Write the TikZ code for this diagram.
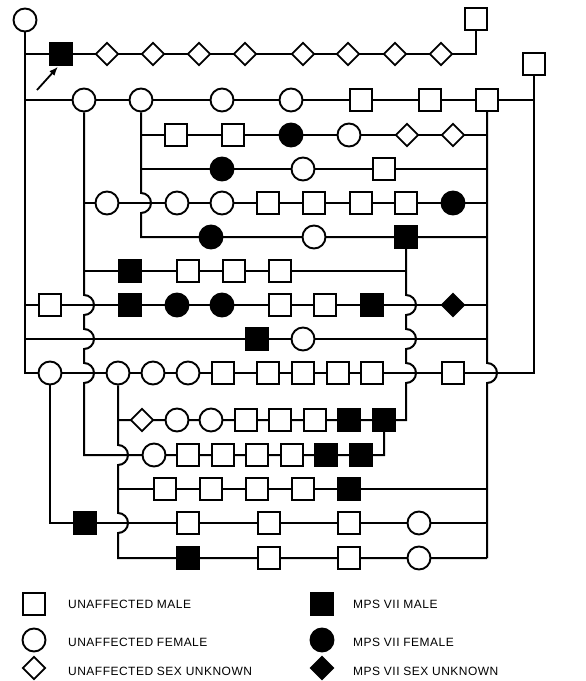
\documentclass[tikz,border=0pt]{standalone}
\usepackage{fontspec}
\setmainfont{Liberation Sans}
\newfontfamily\legfont{Liberation Sans}[LetterSpace=4]
\usetikzlibrary{shapes.geometric,arrows.meta,backgrounds,calc}
\tikzset{
  sym/.style={draw, line width=1.9pt, inner sep=0pt, fill=white},
  M/.style={sym, rectangle, minimum size=21.5pt},
  MA/.style={M, fill=black},
  F/.style={sym, circle, minimum size=23pt},
  FA/.style={F, fill=black},
  U/.style={sym, diamond, minimum size=23pt},
  UA/.style={U, fill=black},
  ln/.style={line width=2pt},
  leg/.style={anchor=west, inner sep=0pt, font=\legfont\fontsize{12}{14}\selectfont},
}
\newcommand\pedrow[3]{\foreach \x/\s [count=\i] in {#3} {\node[\s] (#1-\i) at (\x,#2) {};}}
\begin{document}
\begin{tikzpicture}[x=1pt,y=-1pt]
\path[use as bounding box] (0,0) rectangle (586,681);
\node[F] (t0) at (25,20) {};
\node[M] (tR) at (476,19) {};
\node[M] (tS) at (534,64) {};
\pedrow{r1}{54}{61/MA,107/U,153/U,199/U,245/U,303/U,348/U,395/U,441/U}
\pedrow{r2}{100}{84/F,141/F,222/F,291/F,361/M,430/M,487/M}
\pedrow{r3}{135}{176/M,233/M,291/FA,349/F,407/U,453/U}
\pedrow{r4}{169}{222/FA,303/F,384/M}
\pedrow{r5}{203}{107/F,177/F,222/F,268/M,314/M,361/M,406/M,453/FA}
\pedrow{r6}{237}{211/FA,314/F,406/MA}
\pedrow{r7}{271}{130/MA,188/M,234/M,280/M}
\pedrow{r8}{305}{50/M,130/MA,177/FA,222/FA,280/M,325/M,372/MA,453/UA}
\pedrow{r9}{339}{257/MA,303/F}
\pedrow{r10}{373}{50/F,118/F,153/F,188/F,223/M,268/M,303/M,338/M,372/M,453/M}
\pedrow{r11}{420}{142/U,177/F,211/F,246/M,280/M,315/M,349/MA,384/MA}
\pedrow{r12}{455}{154/F,188/M,223/M,257/M,292/M,326/MA,361/MA}
\pedrow{r13}{489}{165/M,211/M,257/M,303/M,349/MA}
\pedrow{r14}{523}{85/MA,188/M,269/M,349/M,419/F}
\pedrow{r15}{558}{188/MA,269/M,349/M,419/F}
% proband arrow
\coordinate (pa) at (37,90);
\draw[line width=1.8pt, -{Latex[length=9pt,width=7pt]}] (pa) -- ($(r1-1.south)+(-3,1)$);
% legend
\node[M] (l1) at (34,604) {};
\node[F] (l2) at (34,640) {};
\node[U] (l3) at (34,668) {};
\node[MA] (l4) at (322,604) {};
\node[FA] (l5) at (322,640) {};
\node[UA] (l6) at (322,668) {};
\node[leg] (k1) at (68,604) {UNAFFECTED MALE};
\node[leg] (k2) at (68,642) {UNAFFECTED FEMALE};
\node[leg] (k3) at (68,671) {UNAFFECTED SEX UNKNOWN};
\node[leg] (k4) at (353,604) {MPS VII MALE};
\node[leg] (k5) at (353,642) {MPS VII FEMALE};
\node[leg] (k6) at (353,671) {MPS VII SEX UNKNOWN};
\begin{scope}[on background layer]
\fill[white] (0,0) rectangle (586,681);
\draw[ln] (t0 |- r1-1) -| (tR);
\draw[ln] (t0 |- r2-1) -| (tS);
\draw[ln] (t0.south) -- (t0 |- r10-1) -- (tS |- r10-1) -- (tS.south);
\draw[ln] (t0 |- r8-1) -- (r2-7 |- r8-1);
\draw[ln] (t0 |- r9-1) -- (r2-7 |- r9-1);
\draw[ln] (r2-2 |- r3-1) -- (r2-7 |- r3-1);
\draw[ln] (r2-2 |- r4-1) -- (r2-7 |- r4-1);
\draw[ln] (r2-1 |- r5-1) -- (r2-7 |- r5-1);
\draw[ln] (r2-2.south) -- ($(r2-2 |- r5-1)+(0,-10)$) arc[start angle=90,end angle=-90,radius=10pt]
  -- (r2-2 |- r6-1) -- (r2-7 |- r6-1);
\draw[ln] (r2-1.south)
  -- ($(r2-1 |- r8-1)+(0,-10)$) arc[start angle=90,end angle=-90,radius=10pt]
  -- ($(r2-1 |- r9-1)+(0,-10)$) arc[start angle=90,end angle=-90,radius=10pt]
  -- ($(r2-1 |- r10-1)+(0,-10)$) arc[start angle=90,end angle=-90,radius=10pt]
  -- (r2-1 |- r12-1) -- (r11-8 |- r12-1) -- (r11-8.south);
\draw[ln] (r2-1 |- r7-1) -- (r6-3 |- r7-1);
\draw[ln] (r6-3.south)
  -- ($(r6-3 |- r8-1)+(0,-10)$) arc[start angle=90,end angle=-90,radius=10pt]
  -- ($(r6-3 |- r9-1)+(0,-10)$) arc[start angle=90,end angle=-90,radius=10pt]
  -- ($(r6-3 |- r10-1)+(0,-10)$) arc[start angle=90,end angle=-90,radius=10pt]
  -- (r6-3 |- r11-1) -- (r10-2 |- r11-1);
\draw[ln] (r10-2.south)
  -- ($(r10-2 |- r12-1)+(0,-10)$) arc[start angle=90,end angle=-90,radius=10pt]
  -- ($(r10-2 |- r14-1)+(0,-10)$) arc[start angle=90,end angle=-90,radius=10pt]
  -- (r10-2 |- r15-1) -- (r2-7 |- r15-1);
\draw[ln] (r10-2 |- r13-1) -- (r2-7 |- r13-1);
\draw[ln] (r10-1.south) -- (r10-1 |- r14-1) -- (r2-7 |- r14-1);
\draw[ln] (r2-7.south)
  -- ($(r2-7 |- r10-1)+(0,-10)$) arc[start angle=90,end angle=-90,radius=10pt]
  -- (r2-7 |- r15-1);
\end{scope}
\end{tikzpicture}
\end{document}
